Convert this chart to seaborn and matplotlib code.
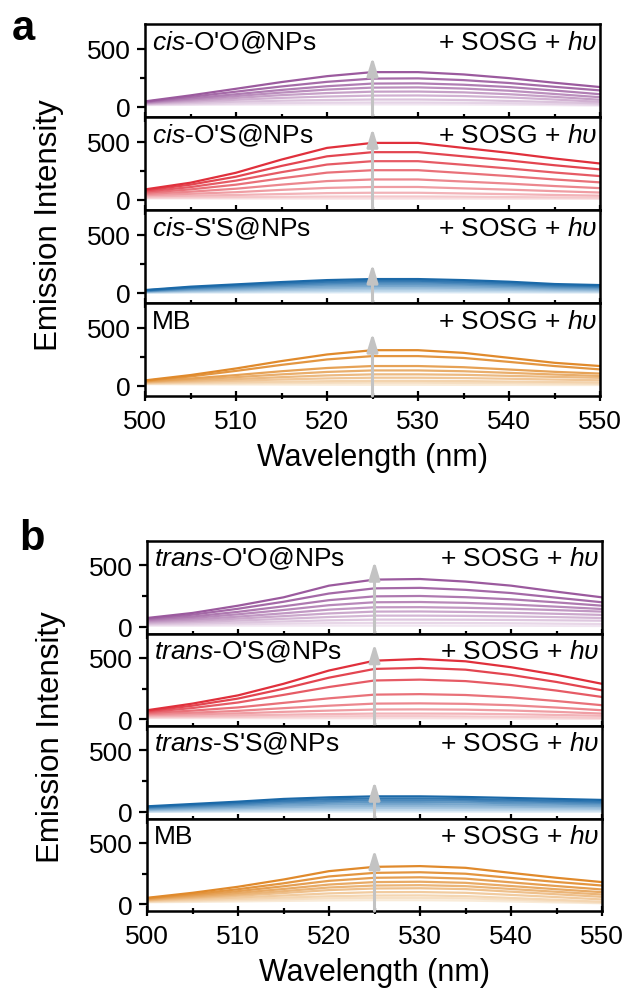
import numpy as np
import pandas as pd
import matplotlib
matplotlib.use("Agg")
import matplotlib.pyplot as plt
from matplotlib.ticker import MultipleLocator, FixedLocator
import seaborn as sns

sns.set_style("ticks")
plt.rcParams['font.family'] = ['Liberation Sans', 'DejaVu Sans']
plt.rcParams['mathtext.fontset'] = 'custom'
plt.rcParams['mathtext.rm'] = 'Liberation Sans'
plt.rcParams['mathtext.it'] = 'Liberation Sans:italic'
for key in ['text.color', 'axes.labelcolor', 'xtick.color', 'ytick.color',
            'xtick.labelcolor', 'ytick.labelcolor', 'axes.edgecolor']:
    plt.rcParams[key] = 'black'

# ---------------- data ----------------
wavelength = [500, 505, 510, 515, 520, 525, 530, 535, 540, 545, 550]

cis_OO = [
    [14, 16, 18, 19, 20, 20, 20, 19, 17, 14, 10],
    [18, 23, 28, 32, 35, 36, 36, 34, 30, 24, 17],
    [22, 32, 43, 52, 58, 62, 62, 58, 50, 40, 28],
    [26, 42, 60, 76, 88, 96, 97, 92, 80, 62, 42],
    [30, 52, 76, 100, 118, 130, 131, 124, 108, 85, 60],
    [34, 62, 92, 122, 148, 165, 167, 157, 138, 110, 82],
    [38, 72, 108, 145, 177, 200, 202, 190, 170, 140, 108],
    [42, 85, 130, 175, 215, 243, 245, 230, 205, 172, 141],
    [46, 98, 155, 213, 264, 299, 299, 279, 247, 207, 170],
]
cis_OS = [
    [12, 12, 11, 11, 10, 10, 10, 10, 9, 9, 8],
    [20, 21, 23, 25, 27, 28, 28, 26, 23, 20, 18],
    [30, 35, 41, 49, 57, 60, 60, 54, 48, 41, 35],
    [40, 51, 65, 85, 102, 110, 110, 98, 87, 74, 62],
    [50, 69, 95, 130, 161, 175, 175, 157, 139, 118, 100],
    [60, 89, 130, 185, 234, 255, 255, 230, 204, 175, 150],
    [70, 109, 165, 238, 304, 333, 333, 302, 270, 235, 204],
    [80, 130, 199, 292, 375, 411, 411, 375, 339, 298, 262],
    [89, 147, 233, 347, 448, 491, 491, 448, 405, 356, 313],
]
cis_SS = [
    [1, 2, 2, 3, 3, 4, 4, 3, 3, 2, 2],
    [3, 7, 10, 13, 15, 17, 17, 15, 13, 11, 9],
    [6, 14, 19, 24, 28, 31, 31, 28, 25, 20, 17],
    [9, 20, 27, 35, 41, 45, 45, 41, 36, 29, 25],
    [12, 26, 36, 46, 55, 59, 59, 55, 48, 38, 33],
    [14, 33, 45, 58, 69, 74, 74, 69, 60, 47, 42],
    [17, 39, 54, 69, 82, 89, 89, 82, 71, 56, 50],
    [20, 45, 63, 80, 95, 103, 103, 95, 83, 65, 57],
    [23, 52, 72, 92, 109, 118, 118, 109, 95, 75, 66],
]
cis_MB = [
    [14, 12, 11, 10, 9, 8, 8, 7, 7, 6, 6],
    [18, 19, 21, 23, 25, 26, 26, 24, 22, 19, 16],
    [22, 26, 30, 35, 39, 42, 42, 40, 36, 32, 28],
    [26, 34, 43, 54, 63, 69, 69, 66, 60, 53, 47],
    [30, 42, 57, 74, 89, 98, 98, 94, 85, 76, 68],
    [34, 52, 74, 98, 119, 132, 132, 125, 111, 97, 84],
    [38, 62, 92, 125, 153, 170, 170, 160, 140, 120, 105],
    [42, 80, 128, 180, 227, 256, 256, 240, 206, 170, 141],
    [46, 92, 149, 213, 270, 307, 307, 284, 241, 198, 170],
]

trans_OO = [
    [10, 10, 11, 11, 11, 11, 11, 10, 10, 9, 8],
    [17, 19, 23, 27, 31, 33, 33, 32, 30, 27, 24],
    [24, 29, 36, 45, 54, 60, 60, 59, 57, 54, 51],
    [31, 40, 52, 66, 81, 92, 92, 90, 86, 80, 73],
    [38, 50, 68, 88, 110, 125, 126, 122, 116, 107, 98],
    [45, 61, 84, 111, 141, 160, 161, 156, 148, 137, 125],
    [52, 73, 103, 138, 177, 201, 203, 196, 183, 165, 146],
    [59, 85, 123, 168, 218, 249, 252, 242, 225, 200, 173],
    [66, 100, 148, 205, 272, 314, 318, 302, 276, 238, 201],
    [73, 114, 173, 241, 336, 385, 390, 369, 336, 287, 241],
]
trans_OS = [
    [12, 11, 11, 10, 10, 10, 10, 9, 8, 6, 5],
    [20, 21, 22, 24, 26, 27, 27, 25, 22, 18, 13],
    [28, 30, 34, 39, 44, 48, 48, 47, 43, 37, 30],
    [36, 42, 50, 62, 72, 81, 82, 80, 73, 62, 48],
    [44, 55, 70, 92, 112, 129, 131, 127, 116, 97, 75],
    [52, 72, 98, 135, 172, 202, 206, 199, 180, 150, 116],
    [60, 93, 138, 200, 264, 317, 324, 312, 280, 235, 183],
    [68, 112, 170, 250, 340, 411, 420, 405, 362, 305, 237],
    [75, 129, 196, 290, 398, 478, 492, 473, 425, 363, 290],
]
trans_SS = [
    [1, 2, 3, 3, 4, 4, 4, 4, 3, 3, 3],
    [6, 9, 12, 15, 17, 18, 18, 17, 16, 15, 14],
    [12, 17, 22, 28, 31, 33, 33, 32, 30, 28, 25],
    [17, 25, 32, 40, 45, 48, 48, 46, 43, 40, 37],
    [23, 33, 42, 53, 60, 64, 64, 61, 57, 53, 49],
    [29, 41, 53, 67, 75, 80, 80, 77, 72, 67, 62],
    [35, 49, 63, 80, 89, 95, 95, 92, 86, 80, 74],
    [40, 57, 73, 92, 104, 110, 110, 106, 99, 92, 85],
    [46, 65, 84, 106, 119, 127, 127, 122, 114, 106, 98],
]
trans_MB = [
    [18, 21, 25, 29, 33, 35, 35, 32, 25, 17, 10],
    [22, 28, 35, 42, 50, 54, 54, 50, 39, 27, 15],
    [26, 34, 45, 56, 67, 73, 74, 68, 53, 38, 22],
    [30, 42, 57, 73, 90, 100, 101, 95, 78, 60, 41],
    [34, 51, 71, 93, 117, 130, 132, 125, 104, 83, 62],
    [38, 58, 82, 108, 138, 154, 157, 149, 126, 103, 81],
    [42, 66, 94, 126, 162, 182, 185, 176, 150, 124, 100],
    [46, 75, 108, 148, 192, 217, 221, 210, 180, 150, 122],
    [50, 84, 124, 172, 228, 257, 262, 250, 216, 183, 154],
    [54, 95, 144, 203, 271, 306, 312, 298, 257, 217, 182],
]

labels_a = [("cis", "-O'O@NPs"), ("cis", "-O'S@NPs"), ("cis", "-S'S@NPs"), ("", "MB")]
labels_b = [("trans", "-O'O@NPs"), ("trans", "-O'S@NPs"), ("trans", "-S'S@NPs"), ("", "MB")]
arrow_tips_a = [431, 620, 250, 457]
arrow_tips_b = [537, 618, 252, 447]
arrow_x = 525

line_colors = ["#9b5a9e", "#e0303c", "#1b69a8", "#e08a2c"]
light_colors = ["#f1e6f1", "#f8dfe1", "#d8e8f4", "#f9ebd8"]

# ---------------- layout ----------------
W, H = 630, 995
fig = plt.figure(figsize=(W / 100, H / 100), dpi=100)

def make_panel(top_px, h_px, left_px, right_px, datasets, labels, tips, ylim):
    axes = []
    for i in range(4):
        bottom = 1 - (top_px + (i + 1) * h_px) / H
        ax = fig.add_axes([left_px / W, bottom, (right_px - left_px) / W, h_px / H])
        data = datasets[i]
        n = len(data)
        rows = []
        for k, curve in enumerate(data):
            for w, v in zip(wavelength, curve):
                rows.append({"wl": w, "I": v, "curve": k})
        df = pd.DataFrame(rows)
        pal = sns.blend_palette([light_colors[i], line_colors[i]], n_colors=n)
        sns.lineplot(data=df, x="wl", y="I", hue="curve", palette=pal,
                     legend=False, ax=ax, linewidth=1.6, sort=False)
        ax.set_xlim(500, 550)
        ax.set_ylim(*ylim)
        ax.annotate("", xy=(arrow_x, tips[i]), xytext=(arrow_x, ylim[0]),
                    arrowprops=dict(arrowstyle="-|>,head_length=0.6,head_width=0.18",
                                    color="#c3c3c3", lw=2.2, mutation_scale=18,
                                    shrinkA=0, shrinkB=0), zorder=5)
        ital, rest = labels[i]
        txt = (r"$\mathit{" + ital + "}$" + rest) if ital else rest
        ax.text(0.016, 500, txt, transform=ax.get_yaxis_transform(),
                ha="left", va="baseline", fontsize=19)
        ax.text(0.993, 500, r"+ SOSG + $\mathit{h\upsilon}$",
                transform=ax.get_yaxis_transform(),
                ha="right", va="baseline", fontsize=19)
        ax.xaxis.set_major_locator(MultipleLocator(10))
        ax.xaxis.set_minor_locator(MultipleLocator(5))
        ax.yaxis.set_major_locator(FixedLocator([0, 500]))
        ax.yaxis.set_minor_locator(FixedLocator([250]))
        ax.tick_params(axis="y", which="major", direction="out", length=6, width=1.6,
                       labelsize=19, pad=4.5)
        ax.tick_params(axis="y", which="minor", direction="out", length=3.5, width=1.6)
        ax.tick_params(axis="x", which="major", direction="inout", length=7, width=1.6,
                       labelsize=19, pad=6)
        ax.tick_params(axis="x", which="minor", direction="inout", length=4.5, width=1.6)
        for s in ax.spines.values():
            s.set_linewidth(1.8)
            s.set_color("black")
        ax.set_xlabel("")
        ax.set_ylabel("")
        if i < 3:
            ax.tick_params(axis="x", labelbottom=False)
        axes.append(ax)
    axes[-1].set_xlabel("Wavelength (nm)", fontsize=22, labelpad=6)
    return axes

make_panel(25, 93.0, 145, 600, [cis_OO, cis_OS, cis_SS, cis_MB], labels_a,
           arrow_tips_a, (-89, 715))
make_panel(542, 92.5, 147, 602, [trans_OO, trans_OS, trans_SS, trans_MB], labels_b,
           arrow_tips_b, (-53, 699))

fig.text(49 / W, 1 - 225 / H, "Emission Intensity", rotation=90, ha="center",
         va="center", fontsize=22.5)
fig.text(51 / W, 1 - 737 / H, "Emission Intensity", rotation=90, ha="center",
         va="center", fontsize=22.5)
fig.text(12 / W, 1 - 40 / H, "a", fontsize=30, fontweight="bold", ha="left", va="baseline")
fig.text(19 / W, 1 - 550 / H, "b", fontsize=30, fontweight="bold", ha="left", va="baseline")

fig.savefig("out.png", dpi=100)
